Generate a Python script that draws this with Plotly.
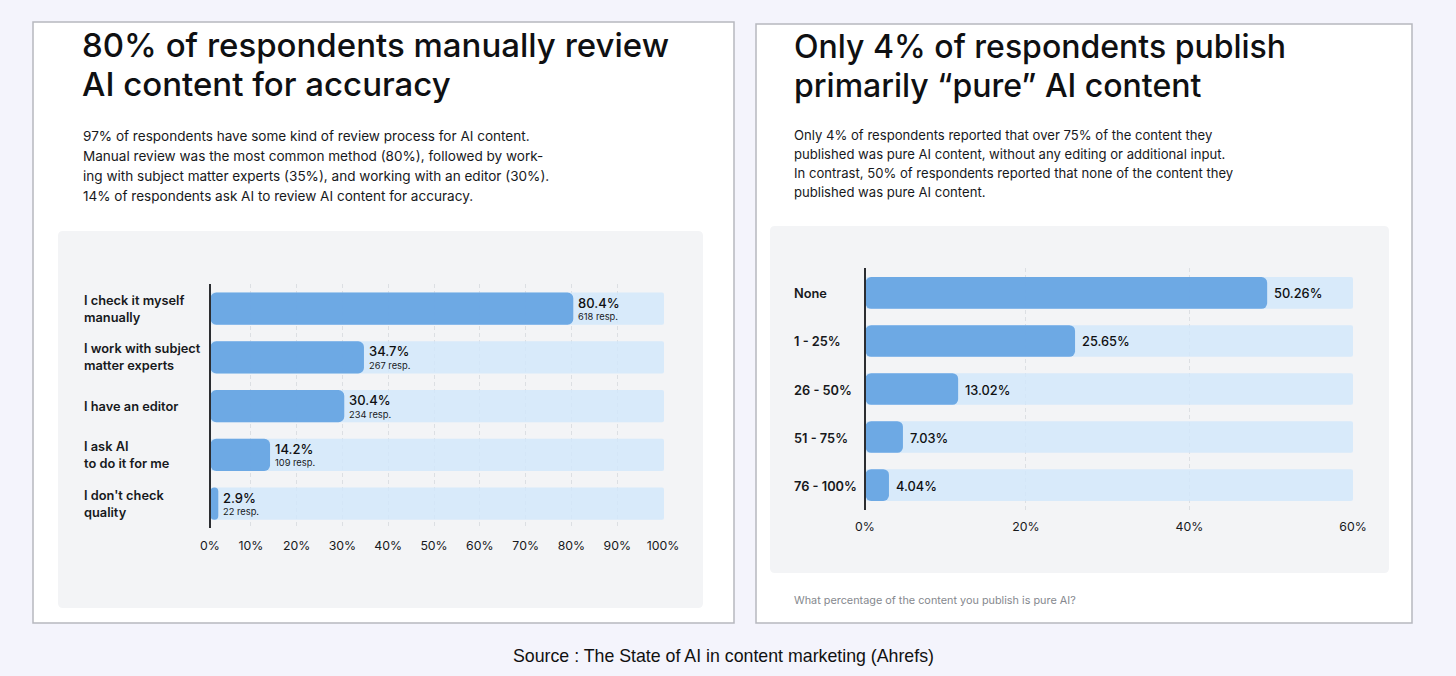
import plotly.graph_objects as go
from plotly.subplots import make_subplots

W = 1456
H = 676

# left chart
review_labels = ["I check it myself<br>manually", "I work with subject<br>matter experts", "I have an editor",
                 "I ask AI<br>to do it for me", "I don't check<br>quality"]
review_pct = [80.4, 34.7, 30.4, 14.2, 2.9]
review_resp = [618, 267, 234, 109, 22]
review_ticks = [10, 20, 30, 40, 50, 60, 70, 80, 90, 100]

# right chart: printed values, and where the bar ends actually sit against the axis
pure_labels = ["None", "1 - 25%", "26 - 50%", "51 - 75%", "76 - 100%"]
pure_pct = ["50.26", "25.65", "13.02", "7.03", "4.04"]
pure_bar_end = [49.5, 26.0, 11.7, 4.95, 3.24]
pure_ticks = [20, 40, 60]

title_left = ["80% of respondents manually review", "AI content for accuracy"]
title_right = ["Only 4% of respondents publish", "primarily “pure” AI content"]
body_left = ["97% of respondents have some kind of review process for AI content.",
             "Manual review was the most common method (80%), followed by work-",
             "ing with subject matter experts (35%), and working with an editor (30%).",
             "14% of respondents ask AI to review AI content for accuracy."]
body_right = ["Only 4% of respondents reported that over 75% of the content they",
              "published was pure AI content, without any editing or additional input.",
              "In contrast, 50% of respondents reported that none of the content they",
              "published was pure AI content."]
question = "What percentage of the content you publish is pure AI?"
source = "Source : The State of AI in content marketing (Ahrefs)"

INK = "#17191c"
TRACK = "rgba(210,231,250,0.85)"
BAR = "rgba(104,165,227,0.96)"
GRID = "#dcdfe3"
PANEL = "#f3f4f6"
BG = "#f4f4fc"
BODY_FONT = "Inter"

# the axes in the source start a little left of the vertical line
review_lo, review_hi = 1.2, 100.2
pure_lo, pure_hi = 0.37, 60


def px_x(v):
    return v / W


def px_y(v):
    return 1 - v / H


def round_rect(x0, y0, x1, y1, r, fill):
    # paper coordinates, corners drawn with quadratic curves
    xa, xb, ya, yb = px_x(x0), px_x(x1), px_y(y0), px_y(y1)
    rx, ry = r / W, r / H
    path = (f"M{xa + rx},{ya} L{xb - rx},{ya} Q{xb},{ya} {xb},{ya - ry} L{xb},{yb + ry} Q{xb},{yb} {xb - rx},{yb} "
            f"L{xa + rx},{yb} Q{xa},{yb} {xa},{yb + ry} L{xa},{ya - ry} Q{xa},{ya} {xa + rx},{ya} Z")
    return dict(type="path", xref="paper", yref="paper", path=path, fillcolor=fill, line_width=0, layer="below")


fig = make_subplots(rows=1, cols=2)

for col, labels, ends, lo, hi in [(1, review_labels, review_pct, review_lo, review_hi),
                                  (2, pure_labels, pure_bar_end, pure_lo, pure_hi)]:
    fig.add_trace(go.Bar(y=labels, x=[hi - lo] * len(labels), base=lo, orientation="h", width=0.66,
                         marker=dict(color=TRACK, cornerradius=2, line=dict(width=0)), hoverinfo="skip"),
                  row=1, col=col)
    fig.add_trace(go.Bar(y=labels, x=[e - lo for e in ends], base=lo, orientation="h", width=0.66,
                         marker=dict(color=BAR, cornerradius="18%", line=dict(width=0))), row=1, col=col)

fig.update_layout(barmode="overlay", barcornerradius=5, showlegend=False, width=W, height=H,
                  margin=dict(l=0, r=0, t=0, b=0), paper_bgcolor=BG, plot_bgcolor="rgba(0,0,0,0)",
                  font=dict(family=BODY_FONT, color=INK))

fig.update_xaxes(row=1, col=1, domain=[px_x(210.5), px_x(664)], range=[review_lo, review_hi], tickvals=review_ticks,
                 ticktext=[f"{t}%" for t in review_ticks], ticklabelstandoff=9)
fig.update_xaxes(row=1, col=2, domain=[px_x(865.5), px_x(1353)], range=[pure_lo, pure_hi], tickvals=pure_ticks,
                 ticktext=[f"{t}%" for t in pure_ticks], ticklabelstandoff=8)
fig.update_xaxes(showgrid=True, gridcolor=GRID, griddash="4px,3px", gridwidth=1, zeroline=False, ticks="",
                 tickfont=dict(size=12.3, color=INK), showline=False, automargin=False)
fig.update_yaxes(row=1, col=1, domain=[px_y(528), px_y(284)], categoryorder="array", categoryarray=review_labels,
                 range=[4.5, -0.505])
fig.update_yaxes(row=1, col=2, domain=[px_y(510), px_y(268)], categoryorder="array", categoryarray=pure_labels,
                 range=[4.52, -0.52])
fig.update_yaxes(showticklabels=False, ticks="", showgrid=False, zeroline=False, showline=True,
                 linecolor="#2b2d31", linewidth=1.5, automargin=False)

shapes = [
    dict(type="rect", xref="paper", yref="paper", x0=px_x(33), x1=px_x(734), y0=px_y(623), y1=px_y(22),
         fillcolor="white", line=dict(color="#b6b8bf", width=1.5), layer="below"),
    dict(type="rect", xref="paper", yref="paper", x0=px_x(756), x1=px_x(1412), y0=px_y(623), y1=px_y(24),
         fillcolor="white", line=dict(color="#b6b8bf", width=1.5), layer="below"),
    round_rect(58, 231, 703, 608, 5, PANEL),
    round_rect(770, 226, 1389, 573, 5, PANEL),
]
fig.update_layout(shapes=shapes)


def note(x, y, text, size, family=BODY_FONT, color=INK, weight="normal", anchor="left"):
    fig.add_annotation(xref="paper", yref="paper", x=px_x(x), y=px_y(y), text=text, showarrow=False,
                       xanchor=anchor, yanchor="middle", align="left", borderpad=0, borderwidth=0,
                       font=dict(size=size, family=family, color=color, weight=weight))


# titles and body text, one annotation per line so the line spacing stays put
for i, line in enumerate(title_left):
    note(82, 45 + i * 39, line, 33, color="#0f1012", weight=550)
for i, line in enumerate(title_right):
    note(794, 47 + i * 38, line, 32, color="#0f1012", weight=550)

for i, line in enumerate(body_left):
    note(83, 135.5 + i * 20.2, line, 13.55)
for i, line in enumerate(body_right):
    note(794, 134.5 + i * 19.2, line, 13.1)

note(794, 600, question, 10.85, color="#85888e")
note(513, 656, source, 17.75, family="Liberation Sans", color="#111111")

# the 0% labels sit on the vertical line, outside the shifted axis range
note(210, 545, "0%", 12.3, anchor="center")
note(865, 526, "0%", 12.3, anchor="center")

# category labels, left aligned
for lab in review_labels:
    fig.add_annotation(xref="paper", yref="y", x=px_x(81.5), y=lab, text=lab, showarrow=False,
                       xanchor="left", align="left", font=dict(size=12.8, color=INK, weight=600))
for lab in pure_labels:
    fig.add_annotation(xref="paper", yref="y2", x=px_x(792.5), y=lab, text=lab, showarrow=False,
                       xanchor="left", align="left", yshift=-1, font=dict(size=12.8, color=INK, weight=600))

# value labels next to each bar
for lab, pct, resp in zip(review_labels, review_pct, review_resp):
    fig.add_annotation(xref="x", yref="y", x=pct, y=lab, text=f"{pct}%", showarrow=False, xanchor="left",
                       xshift=3, yshift=6, font=dict(size=13, color="#0f1012", weight=500))
    fig.add_annotation(xref="x", yref="y", x=pct, y=lab, text=f"{resp} resp.", showarrow=False, xanchor="left",
                       xshift=3, yshift=-8, font=dict(size=9.3, color=INK))
for lab, pct, end in zip(pure_labels, pure_pct, pure_bar_end):
    fig.add_annotation(xref="x2", yref="y2", x=end, y=lab, text=f"{pct}%", showarrow=False, xanchor="left",
                       xshift=5, yshift=-1, font=dict(size=12.8, color="#0f1012", weight=500))

fig.write_html("out.html", config={"displayModeBar": False}, post_script="document.body.style.margin='0'")
